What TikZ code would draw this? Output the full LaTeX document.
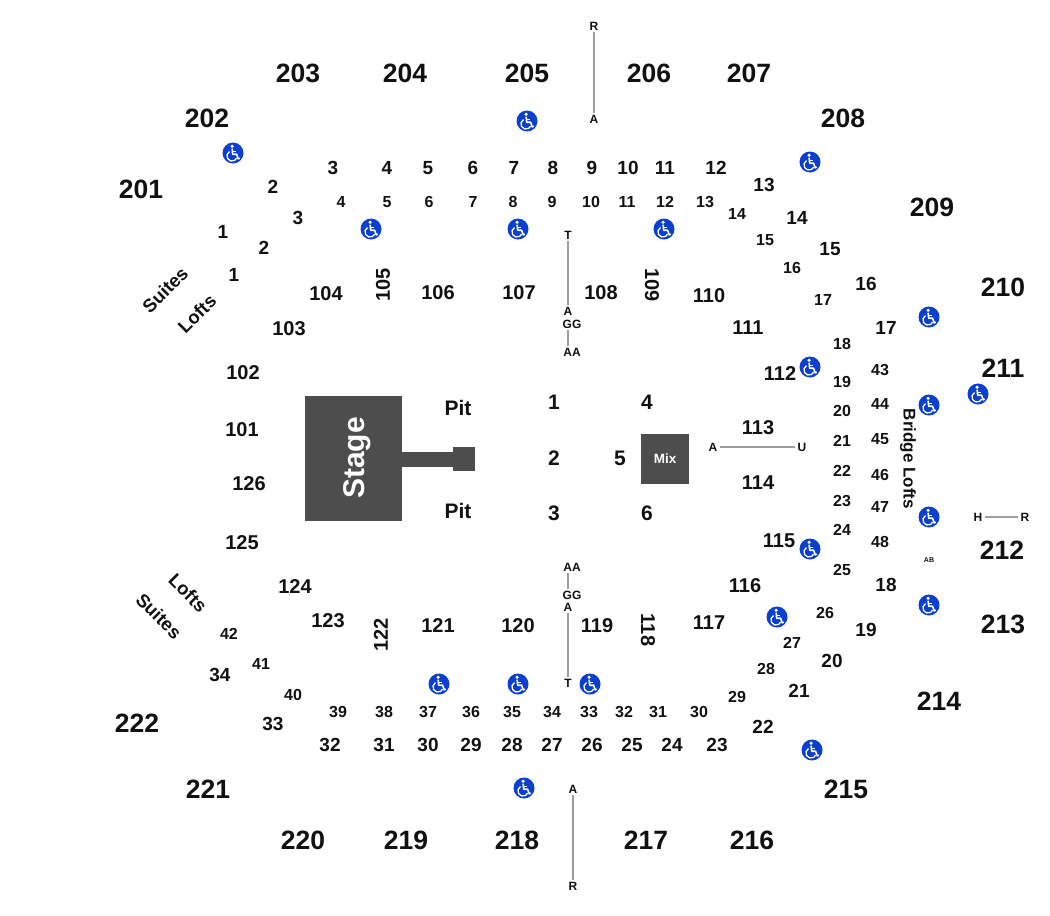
\documentclass[tikz,border=0pt]{standalone}
\usepackage{fontspec}
\setmainfont{Liberation Sans}
\usetikzlibrary{positioning}
\definecolor{Ink}{HTML}{111111}
\definecolor{Slab}{HTML}{4D4D4D}
\definecolor{Rule}{HTML}{9E9E9E}
\definecolor{Access}{HTML}{0A3FD0}
\tikzset{
  upper/.style={font=\fontsize{26.5}{26.5}\selectfont\bfseries,text=Ink,inner sep=0pt},
  lower/.style={font=\fontsize{20}{20}\selectfont\bfseries,text=Ink,inner sep=0pt},
  rowbig/.style={font=\fontsize{19}{19}\selectfont\bfseries,text=Ink,inner sep=0pt},
  rowsmall/.style={font=\fontsize{16}{16}\selectfont\bfseries,text=Ink,inner sep=0pt},
  floorsec/.style={font=\fontsize{21}{21}\selectfont\bfseries,text=Ink,inner sep=0pt},
  sidelab/.style={font=\fontsize{18.5}{18.5}\selectfont\bfseries,text=Ink,inner sep=0pt},
  tag/.style={font=\fontsize{12}{12}\selectfont\bfseries,text=Ink,inner sep=0pt},
  slab/.style={fill=Slab,draw=none,inner sep=0pt},
  seatline/.style={draw=Rule,line width=1.1pt,shorten >=2pt,shorten <=2pt},
  access/.pic={
    \fill[Access] (0,0) circle (10.5);
    \fill[white] (-.9,-6.8) circle (1.7);
    \draw[white,line width=1.6pt,line join=round] (-.9,-4.4) -- (-.3,1.2) -- (3.6,1.2) -- (5.2,5.8) -- (6.8,5.2);
    \draw[white,line width=1.2pt] (-.6,-1.7) -- (3.4,-1.7);
    \draw[white,line width=1.3pt] (-1,3) ++(240:5.1) arc[start angle=240,end angle=25,radius=5.1];
  }
}
\begin{document}
\begin{tikzpicture}[x=1pt,y=-1pt]
  \useasboundingbox (0,0) rectangle (1050,916);
  % upper bowl
  \foreach \x/\y/\t in {141/189/201,207/118/202,298/73/203,405/73/204,527/73/205,649/73/206,749/73/207,843/118/208,932/207/209,1003/287/210,1003/368/211,1002/550/212,1003/624/213,939/701/214,846/789/215,752/840/216,646/840/217,517/840/218,406/840/219,303/840/220,208/789/221,137/723/222}
    \node[upper] (sec\t) at (\x,\y) {\t};
  % lower bowl
  \foreach \x/\y/\t in {242/430/101,243/373/102,289/329/103,326/294/104,438/293/106,519/293/107,601/293/108,709/296/110,748/328/111,780/374/112,758/428/113,758/483/114,779/541/115,745/586/116,709/623/117,597/626/119,518/626/120,438/626/121,328/621/123,295/587/124,242/543/125,249/484/126}
    \node[lower] (sec\t) at (\x,\y) {\t};
  \node[lower,rotate=90] (sec105) at (383,285) {105};
  \node[lower,rotate=-90] (sec109) at (652,285) {109};
  \node[lower,rotate=-90] (sec118) at (648,630) {118};
  \node[lower,rotate=90] (sec122) at (381,635) {122};
  % outer rows
  \foreach \x/\y/\t in {223/232/1,273/187/2,333/168/3,387/168/4,428/168/5,473/168/6,514/168/7,553/168/8,592/168/9,628/168/10,665/168/11,716/168/12,764/185/13,797/218/14,830/249/15,866/284/16,886/328/17,886/585/18,866/630/19,832/661/20,799/691/21,763/727/22,717/745/23,672/745/24,632/745/25,592/745/26,552/745/27,512/745/28,471/745/29,428/745/30,384/745/31,330/745/32,273/724/33,220/675/34}
    \node[rowbig] (out\t) at (\x,\y) {\t};
  \node[rowbig] (loftA) at (234,275) {1};
  \node[rowbig] (loftB) at (264,248) {2};
  \node[rowbig] (loftC) at (298,218) {3};
  % inner rows
  \foreach \x/\y/\t in {341/202/4,387/202/5,429/202/6,473/202/7,513/202/8,552/202/9,591/202/10,627/202/11,665/202/12,705/202/13,737/214/14,765/240/15,792/268/16,823/300/17,842/344/18,842/382/19,842/411/20,842/441/21,842/471/22,842/501/23,842/530/24,842/570/25,825/613/26,792/643/27,766/669/28,737/697/29,699/712/30,658/712/31,624/712/32,589/712/33,552/712/34,512/712/35,471/712/36,428/712/37,384/712/38,338/712/39,293/695/40,261/664/41,229/634/42,880/370/43,880/404/44,880/439/45,880/475/46,880/507/47,880/542/48}
    \node[rowsmall] (inn\t) at (\x,\y) {\t};
  % floor
  \foreach \x/\y/\t in {554/402/1,554/458/2,554/513/3,647/402/4,620/458/5,647/513/6}
    \node[floorsec] (flr\t) at (\x,\y) {\t};
  \node[floorsec] (pitA) at (458,408) {Pit};
  \node[floorsec] (pitB) at (458,511) {Pit};
  \node[slab,minimum width=97,minimum height=125] (stage) at (353.5,458.5) {};
  \node[slab,minimum width=51,minimum height=15] (thrust) at (427.5,459.5) {};
  \node[slab,minimum width=22,minimum height=24] (runway) at (464,459) {};
  \node[font=\fontsize{30}{30}\selectfont\bfseries,text=white,rotate=90,inner sep=0pt] (stagelab) at (357,458) {Stage};
  \node[slab,minimum width=48,minimum height=50,font=\fontsize{13.5}{13.5}\selectfont\bfseries,text=white] (mix) at (665,459) {Mix};
  % side labels
  \node[sidelab,rotate=45] (suitesA) at (165,290) {Suites};
  \node[sidelab,rotate=45] (loftsA) at (197,314) {Lofts};
  \node[sidelab,rotate=-45] (loftsB) at (188,593) {Lofts};
  \node[sidelab,rotate=-45] (suitesB) at (159,616) {Suites};
  \node[rowsmall,font=\fontsize{17}{17}\selectfont\bfseries,rotate=-90] (bridge) at (908,459) {Bridge Lofts};
  % seat tags
  \node[tag] (rTop) at (594,26) {R};
  \node[tag] (aTop) at (594,119) {A};
  \node[tag] (tUp) at (568,235) {T};
  \node[tag] (aUp) at (568,311) {A};
  \node[tag] (ggUp) at (572,324) {GG};
  \node[tag] (aaUp) at (572,352) {AA};
  \node[tag] (aaLow) at (572,567) {AA};
  \node[tag] (ggLow) at (572,595) {GG};
  \node[tag] (aLow) at (568,607) {A};
  \node[tag] (tLow) at (568,683) {T};
  \node[tag] (aBot) at (573,789) {A};
  \node[tag] (rBot) at (573,886) {R};
  \node[tag] (aMix) at (713,447) {A};
  \node[tag] (uMix) at (802,447) {U};
  \node[tag] (hSide) at (978,517) {H};
  \node[tag] (rSide) at (1025,517) {R};
  \node[tag,font=\fontsize{7}{7}\selectfont\bfseries] (abSide) at (929,560) {AB};
  \draw[seatline] (rTop) -- (aTop);
  \draw[seatline] (tUp) -- (aUp);
  \draw[seatline] (ggUp.south -| aUp) -- (aaUp.north -| aUp);
  \draw[seatline] (aaLow.south -| aLow) -- (ggLow.north -| aLow);
  \draw[seatline] (aLow) -- (tLow);
  \draw[seatline] (aBot) -- (rBot);
  \draw[seatline] (aMix) -- (uMix);
  \draw[seatline] (hSide) -- (rSide);
  % accessible seating
  \foreach \x/\y in {233/153,527/121,810/162,371/229,518/229,664/229,929/317,810/367,929/405,978/394,929/517,810/549,929/605,777/617,439/684,518/684,590/684,812/750,524/788}
    \pic at (\x,\y) {access};
\end{tikzpicture}
\end{document}
